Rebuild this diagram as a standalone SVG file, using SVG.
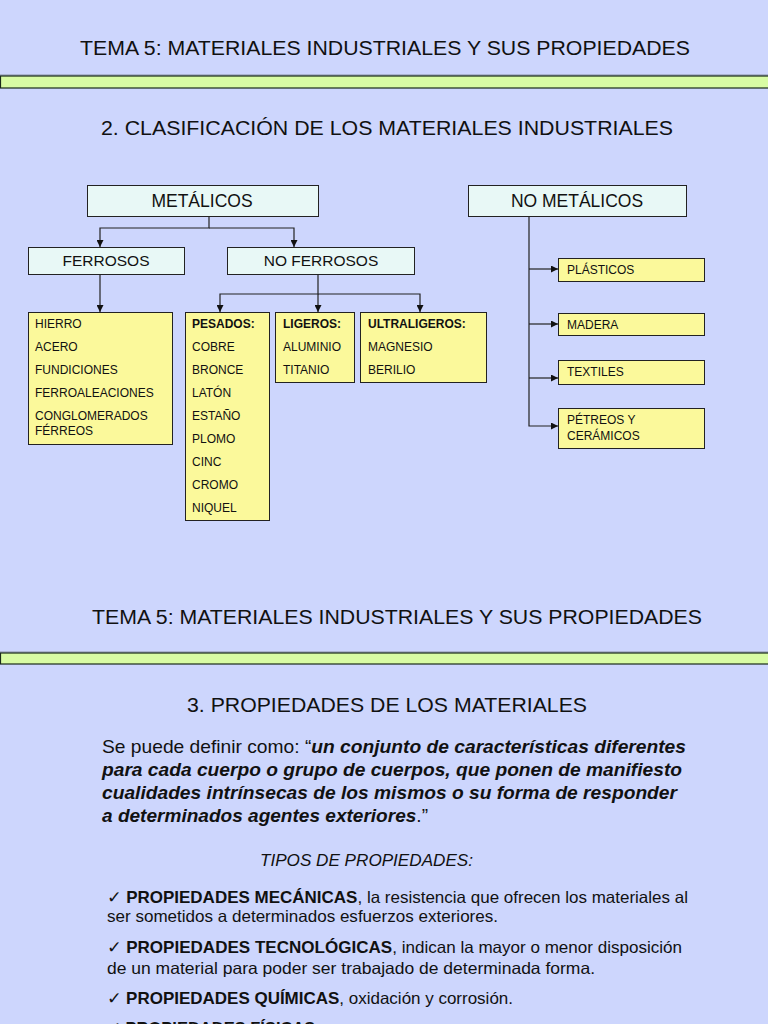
<svg xmlns="http://www.w3.org/2000/svg" width="768" height="1024" viewBox="0 0 768 1024">
<style>
text{font-family:"Liberation Sans",Arial,sans-serif;fill:#111}
.t{font-size:20px}
.hb{fill:#E8F8F6;stroke:#222;stroke-width:1}
.yb{fill:#FBF99B;stroke:#222;stroke-width:1}
.band{fill:#D8FCA4;stroke:#1a2a1a;stroke-width:1.2}
.l{font-size:12px}
.b{font-weight:bold}
.c{stroke:#222;stroke-width:1.2;fill:none}
.p{font-size:16.5px}
</style>
<defs>
<marker id="ar" viewBox="0 0 10 10" refX="10" refY="5" markerWidth="7" markerHeight="7" markerUnits="userSpaceOnUse" orient="auto">
<path d="M0,0 L10,5 L0,10 Z" fill="#111"/>
</marker>
</defs>
<rect width="768" height="1024" fill="#CDD6FD"/>

<text class="t" x="80" y="55" textLength="610" lengthAdjust="spacingAndGlyphs">TEMA 5: MATERIALES INDUSTRIALES Y SUS PROPIEDADES</text>
<line x1="0" y1="75" x2="768" y2="75" stroke="#8890a0" stroke-width="1"/>
<rect class="band" x="0.5" y="76" width="770" height="12"/>
<text class="t" x="101" y="135" textLength="572" lengthAdjust="spacingAndGlyphs">2. CLASIFICACIÓN DE LOS MATERIALES INDUSTRIALES</text>

<g id="connectors">
<path class="c" d="M209,216 V228 H100 V247" marker-end="url(#ar)"/>
<path class="c" d="M209,228 H294 V247" marker-end="url(#ar)"/>
<path class="c" d="M100,274 V312" marker-end="url(#ar)"/>
<path class="c" d="M318,274 V294 H220 V312" marker-end="url(#ar)"/>
<path class="c" d="M318,294 V312" marker-end="url(#ar)"/>
<path class="c" d="M318,294 H420 V312" marker-end="url(#ar)"/>
<path class="c" d="M529,216 V426 H558" marker-end="url(#ar)"/>
<path class="c" d="M529,269 H558" marker-end="url(#ar)"/>
<path class="c" d="M529,324 H558" marker-end="url(#ar)"/>
<path class="c" d="M529,378 H558" marker-end="url(#ar)"/>
</g>

<g id="metalicos">
<rect class="hb" x="87.5" y="185.5" width="231" height="31"/>
<text x="202" y="207" font-size="17.5" text-anchor="middle">METÁLICOS</text>
</g>
<g id="no-metalicos">
<rect class="hb" x="468.5" y="185.5" width="218" height="31"/>
<text x="577" y="207" font-size="17.5" text-anchor="middle">NO METÁLICOS</text>
</g>
<g id="ferrosos">
<rect class="hb" x="28.5" y="247.5" width="156" height="27"/>
<text x="106" y="266" font-size="15.5" text-anchor="middle">FERROSOS</text>
</g>
<g id="no-ferrosos">
<rect class="hb" x="227.5" y="247.5" width="187" height="27"/>
<text x="321" y="266" font-size="15.5" text-anchor="middle">NO FERROSOS</text>
</g>

<g id="ferrosos-lista">
<rect class="yb" x="28.5" y="312.5" width="144" height="132"/>
<text class="l" x="35" y="328">HIERRO</text>
<text class="l" x="35" y="351">ACERO</text>
<text class="l" x="35" y="374">FUNDICIONES</text>
<text class="l" x="35" y="397">FERROALEACIONES</text>
<text class="l" x="35" y="420">CONGLOMERADOS</text>
<text class="l" x="35" y="435">FÉRREOS</text>
</g>
<g id="pesados">
<rect class="yb" x="185.5" y="312.5" width="84" height="208"/>
<text class="l b" x="192" y="328">PESADOS:</text>
<text class="l" x="192" y="351">COBRE</text>
<text class="l" x="192" y="374">BRONCE</text>
<text class="l" x="192" y="397">LATÓN</text>
<text class="l" x="192" y="420">ESTAÑO</text>
<text class="l" x="192" y="443">PLOMO</text>
<text class="l" x="192" y="466">CINC</text>
<text class="l" x="192" y="489">CROMO</text>
<text class="l" x="192" y="512">NIQUEL</text>
</g>
<g id="ligeros">
<rect class="yb" x="275.5" y="312.5" width="79" height="70"/>
<text class="l b" x="283" y="328">LIGEROS:</text>
<text class="l" x="283" y="351">ALUMINIO</text>
<text class="l" x="283" y="374">TITANIO</text>
</g>
<g id="ultraligeros">
<rect class="yb" x="360.5" y="312.5" width="126" height="70"/>
<text class="l b" x="368" y="328">ULTRALIGEROS:</text>
<text class="l" x="368" y="351">MAGNESIO</text>
<text class="l" x="368" y="374">BERILIO</text>
</g>

<g id="plasticos">
<rect class="yb" x="558.5" y="258.5" width="146" height="23"/>
<text class="l" x="567" y="274">PLÁSTICOS</text>
</g>
<g id="madera">
<rect class="yb" x="558.5" y="313.5" width="146" height="22"/>
<text class="l" x="567" y="329">MADERA</text>
</g>
<g id="textiles">
<rect class="yb" x="558.5" y="360.5" width="146" height="24"/>
<text class="l" x="567" y="376">TEXTILES</text>
</g>
<g id="petreos">
<rect class="yb" x="558.5" y="408.5" width="146" height="40"/>
<text class="l" x="567" y="424">PÉTREOS Y</text>
<text class="l" x="567" y="440">CERÁMICOS</text>
</g>

<text class="t" x="92" y="624" textLength="610" lengthAdjust="spacingAndGlyphs">TEMA 5: MATERIALES INDUSTRIALES Y SUS PROPIEDADES</text>
<line x1="0" y1="652" x2="768" y2="652" stroke="#8890a0" stroke-width="1"/>
<rect class="band" x="0.5" y="653" width="770" height="11"/>
<text class="t" x="187" y="712" textLength="400" lengthAdjust="spacingAndGlyphs">3. PROPIEDADES DE LOS MATERIALES</text>

<text x="102" y="753" font-size="18.5" textLength="584" lengthAdjust="spacingAndGlyphs">Se puede definir como: “<tspan font-weight="bold" font-style="italic">un conjunto de características diferentes</tspan></text>
<text x="102" y="776" font-size="18.5" font-weight="bold" font-style="italic" textLength="580" lengthAdjust="spacingAndGlyphs">para cada cuerpo o grupo de cuerpos, que ponen de manifiesto</text>
<text x="102" y="799" font-size="18.5" font-weight="bold" font-style="italic" textLength="575" lengthAdjust="spacingAndGlyphs">cualidades intrínsecas de los mismos o su forma de responder</text>
<text x="102" y="822" font-size="18.5" textLength="326" lengthAdjust="spacingAndGlyphs"><tspan font-weight="bold" font-style="italic">a determinados agentes exteriores</tspan>.”</text>

<text x="260" y="866" font-size="16.5" font-style="italic" textLength="213" lengthAdjust="spacingAndGlyphs">TIPOS DE PROPIEDADES:</text>

<text class="p" x="107" y="903" textLength="581" lengthAdjust="spacingAndGlyphs">✓ <tspan class="b">PROPIEDADES MECÁNICAS</tspan>, la resistencia que ofrecen los materiales al</text>
<text class="p" x="107" y="922" textLength="391" lengthAdjust="spacingAndGlyphs">ser sometidos a determinados esfuerzos exteriores.</text>
<text class="p" x="107" y="953" textLength="575" lengthAdjust="spacingAndGlyphs">✓ <tspan class="b">PROPIEDADES TECNOLÓGICAS</tspan>, indican la mayor o menor disposición</text>
<text class="p" x="107" y="974" textLength="488" lengthAdjust="spacingAndGlyphs">de un material para poder ser trabajado de determinada forma.</text>
<text class="p" x="107" y="1004" textLength="406" lengthAdjust="spacingAndGlyphs">✓ <tspan class="b">PROPIEDADES QUÍMICAS</tspan>, oxidación y corrosión.</text>
<text class="p" x="107" y="1034">✓ <tspan class="b">PROPIEDADES FÍSICAS</tspan></text>
</svg>
